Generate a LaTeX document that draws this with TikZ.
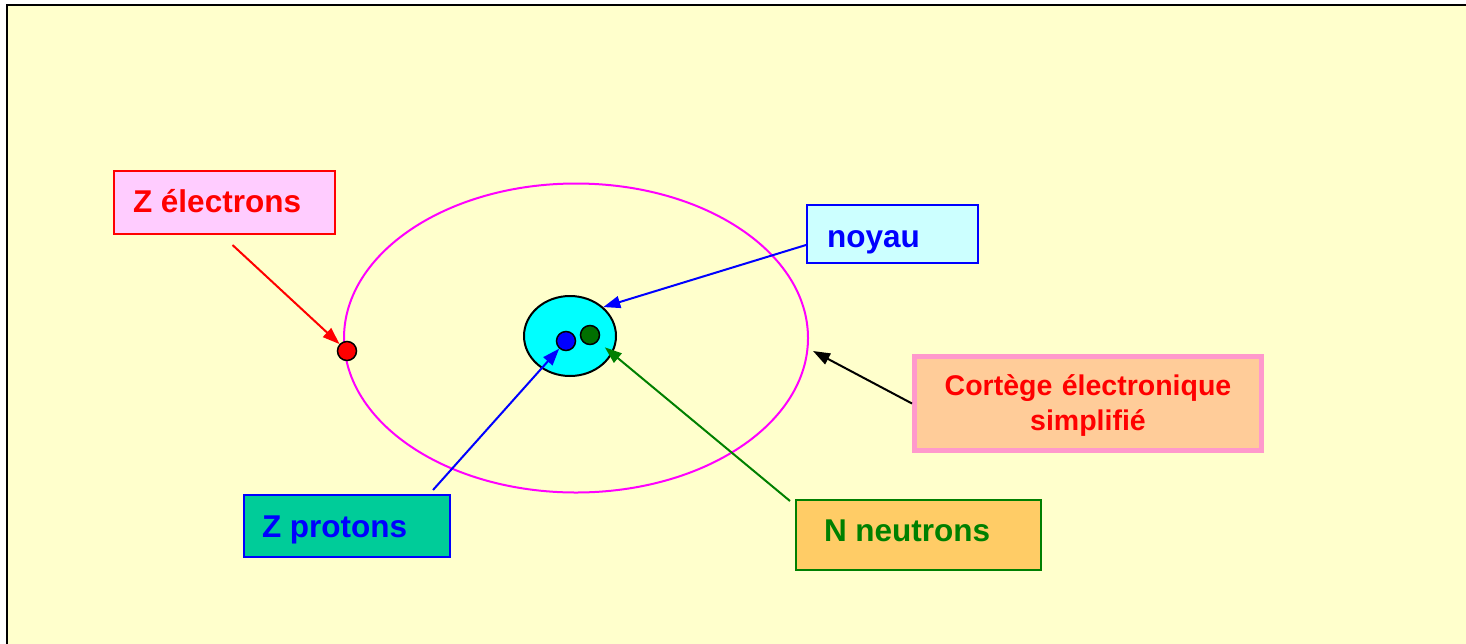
\documentclass[tikz,border=0pt]{standalone}
\usepackage{fontspec}
\setmainfont{Liberation Sans}
\usepackage{tikz}
\usetikzlibrary{arrows.meta,shapes.geometric}
\definecolor{fond}{HTML}{FFFFCC}
\definecolor{rose}{HTML}{FFCCFF}
\definecolor{ciel}{HTML}{CCFFFF}
\definecolor{vertd}{HTML}{00CC99}
\definecolor{orange}{HTML}{FFCC66}
\definecolor{peche}{HTML}{FFCC99}
\definecolor{bord}{HTML}{FF99CC}
\definecolor{vert}{HTML}{008000}
\definecolor{vertf}{HTML}{007000}
\definecolor{orbite}{HTML}{FF00FF}
\definecolor{coeur}{HTML}{00FFFF}

\begin{document}
\begin{tikzpicture}[x=1pt,y=-1pt,
  labelbox/.style={draw,rectangle,line width=2pt,inner ysep=0pt,text depth=6pt,
    font=\fontsize{31.5}{36}\selectfont\bfseries},
  particle/.style={circle,draw=black,line width=1.5pt,minimum size=19pt,inner sep=0pt}]
\clip (0,0) rectangle (1466,643);
\fill[white] (0,0) rectangle (1466,643);
\fill[fond] (7,5) rectangle (1480,660);
\draw[line width=2pt] (7,660) -- (7,5) -- (1480,5);
\begin{scope}[line width=2pt,>={Triangle[length=17pt,width=12pt]}]
% atome
\node[ellipse,draw=orbite,minimum width=464pt,minimum height=309pt] (orbit) at (576,338) {};
\node[ellipse,draw=black,fill=coeur,minimum width=92pt,minimum height=80pt] (nucleus) at (570,336) {};
\node[particle,fill=blue] (proton) at (566,341) {};
\node[particle,fill=vertf] (neutron) at (590,335) {};
\node[particle,fill=red] (electron) at (347,351) {};
\coordinate (orbtip) at (813,351);
% etiquettes
\node[labelbox,draw=red,fill=rose,text=red,minimum width=221pt,minimum height=63pt,text height=25pt] (zel) at (224.5,202.5) {\makebox[183pt][l]{Z électrons}};
\node[labelbox,draw=blue,fill=ciel,text=blue,minimum width=171pt,minimum height=58pt,text height=32pt] (noyau) at (892.5,234) {\makebox[131pt][l]{noyau}};
\node[labelbox,draw=blue,fill=vertd,text=blue,minimum width=206pt,minimum height=62pt,text height=28pt] (zprot) at (347,526) {\makebox[170pt][l]{Z protons}};
\node[labelbox,draw=vert,fill=orange,text=vert,minimum width=245pt,minimum height=70pt,text height=18pt] (nneut) at (918.5,535) {\makebox[189pt][l]{N neutrons}};
\node[labelbox,draw=bord,fill=peche,text=red,line width=5pt,align=center,minimum height=94pt,text width=320pt,inner xsep=13.5pt,
  text height=25pt,text depth=42pt,font=\fontsize{28.5}{35}\selectfont\bfseries] (cortege) at (1088,403.5) {Cortège électronique\\simplifié};
% fleches
\draw[->,red] ([shift={(8,10)}]zel.south) -- (electron);
\draw[->,blue] ([shift={(0,11)}]noyau.west) -- (nucleus.41);
\draw[->,blue] ([shift={(-18,-4)}]zprot.north east) -- (proton);
\draw[->,vert,shorten >=9pt] ([shift={(-5,2)}]nneut.north west) -- (neutron);
\draw[->,black] (cortege.west) -- (orbtip);
\end{scope}
\end{tikzpicture}
\end{document}
